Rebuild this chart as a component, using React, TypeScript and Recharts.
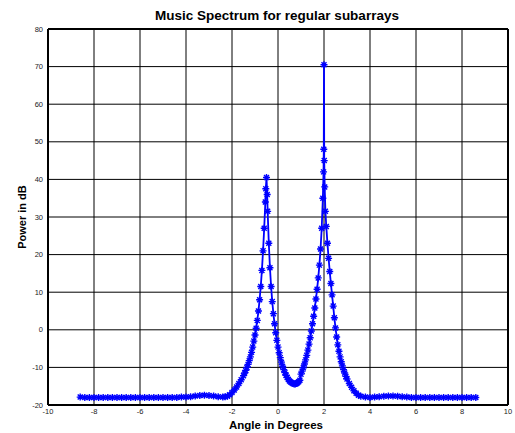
import React from 'react';
import { LineChart, Line, XAxis, YAxis, CartesianGrid, ReferenceLine } from 'recharts';

const angles = [
  -8.6, -8.4, -8.2, -8.0, -7.8, -7.6, -7.4, -7.2, -7.0, -6.8, -6.6, -6.4, -6.2, -6.0,
  -5.8, -5.6, -5.4, -5.2, -5.0, -4.8, -4.6, -4.4, -4.2, -4.0, -3.8, -3.6, -3.4, -3.2,
  -3.0, -2.8, -2.6, -2.4, -2.3, -2.2, -2.1, -2.0, -1.9, -1.8, -1.7, -1.6, -1.5, -1.45,
  -1.4, -1.35, -1.3, -1.25, -1.2, -1.15, -1.1, -1.05, -1.0, -0.95, -0.9, -0.85, -0.8,
  -0.75, -0.7, -0.65, -0.6, -0.55, -0.53, -0.5, -0.47, -0.45, -0.4, -0.35, -0.3, -0.25,
  -0.2, -0.15, -0.1, -0.05, 0.0, 0.05, 0.1, 0.15, 0.2, 0.25, 0.3, 0.35, 0.4, 0.45, 0.5,
  0.55, 0.6, 0.65, 0.7, 0.75, 0.8, 0.85, 0.9, 0.95, 1.0, 1.05, 1.1, 1.15, 1.2, 1.25, 1.3,
  1.35, 1.4, 1.45, 1.5, 1.55, 1.6, 1.65, 1.7, 1.75, 1.8, 1.85, 1.9, 1.95, 1.98, 1.99, 2.0,
  2.01, 2.03, 2.06, 2.1, 2.15, 2.2, 2.25, 2.3, 2.35, 2.4, 2.45, 2.5, 2.55, 2.6, 2.65, 2.7,
  2.75, 2.8, 2.85, 2.9, 2.95, 3.0, 3.1, 3.2, 3.3, 3.4, 3.5, 3.6, 3.8, 4.0, 4.2, 4.4, 4.6,
  4.8, 5.0, 5.2, 5.4, 5.6, 5.8, 6.0, 6.2, 6.4, 6.6, 6.8, 7.0, 7.2, 7.4, 7.6, 7.8, 8.0,
  8.2, 8.4, 8.6,
];

const powers = [
  -17.9, -18.0, -18.0, -18.0, -18.0, -18.0, -18.0, -18.0, -18.0, -18.0, -18.0, -18.0, -18.0, -18.0,
  -18.0, -18.0, -18.0, -18.0, -18.0, -18.0, -18.0, -18.0, -17.9, -17.9, -17.8, -17.6, -17.5, -17.4,
  -17.5, -17.6, -17.8, -17.9, -17.8, -17.7, -17.3, -16.7, -16.0, -15.2, -14.3, -13.3, -12.2, -11.5,
  -10.8, -10.0, -9.2, -8.2, -7.2, -6.0, -4.6, -3.0, -1.4, 0.4, 2.5, 5.0, 8.0,
  11.5, 15.8, 21.0, 27.0, 34.0, 37.5, 40.5, 36.0, 31.5, 23.0, 16.5, 11.5, 7.5,
  4.3, 1.6, -0.8, -2.8, -4.6, -6.1, -7.4, -8.6, -9.7, -10.6, -11.4, -12.1, -12.7, -13.2, -13.6,
  -13.9, -14.1, -14.3, -14.4, -14.4, -14.3, -14.1, -13.8, -13.4, -11.8, -11.0, -10.1, -9.1, -8.0, -6.8, -5.4,
  -3.8, -2.1, -0.3, 1.6, 3.6, 5.8, 8.2, 10.8, 13.8, 17.2, 21.5, 27.0, 35.0, 42.0, 48.0, 70.5,
  45.0, 38.0, 31.5, 27.5, 23.0, 19.0, 15.5, 12.3, 9.3, 6.3, 3.2, 0.5, -1.9, -4.0, -5.7, -7.2,
  -8.5, -9.6, -10.6, -11.5, -12.4, -13.1, -14.3, -15.3, -16.2, -16.9, -17.4, -17.7, -17.9, -18.0, -17.9, -17.8, -17.7,
  -17.6, -17.6, -17.7, -17.8, -17.9, -18.0, -18.0, -18.0, -18.0, -18.0, -18.0, -18.0, -18.0, -18.0, -18.0, -18.0, -18.0,
  -18.0, -18.0, -18.0,
];

const xTicks = [-10, -8, -6, -4, -2, 0, 2, 4, 6, 8, 10];
const yTicks = [-20, -10, 0, 10, 20, 30, 40, 50, 60, 70, 80];

const data = angles.map((a, i) => ({ angle: a, power: powers[i] }));

const FONT = '"Liberation Sans", Arial, Helvetica, sans-serif';

const Star = (props: any) => {
  const { cx, cy, index } = props;
  if (cx == null || cy == null) return <g key={`s${index}`} />;
  const r = 3.5;
  const d = 2.5;
  return (
    <path
      key={`s${index}`}
      d={`M${cx - r},${cy}H${cx + r}M${cx},${cy - r}V${cy + r}M${cx - d},${cy - d}L${cx + d},${cy + d}M${cx - d},${cy + d}L${cx + d},${cy - d}`}
      stroke="#0000ff"
      strokeWidth={1.4}
      fill="none"
    />
  );
};

export default function App() {
  return (
    <div style={{ position: 'absolute', left: 0, top: 0, width: 515, height: 433, background: '#fff', fontFamily: FONT }}>
      <LineChart
        width={515}
        height={433}
        data={data}
        margin={{ top: 29, right: 7, bottom: 0, left: 0 }}
        style={{ fontFamily: FONT }}
      >
        <CartesianGrid stroke="#000" strokeWidth={1} horizontalValues={yTicks} verticalValues={xTicks} />
        <XAxis
          dataKey="angle"
          type="number"
          domain={[-10, 10]}
          ticks={xTicks}
          interval={0}
          height={28}
          tickSize={3}
          tickMargin={1}
          tickLine={false}
          axisLine={{ stroke: '#000', strokeWidth: 2 }}
          tick={{ fontSize: 7.5, fill: '#222', fontFamily: FONT }}
        />
        <YAxis
          type="number"
          domain={[-20, 80]}
          ticks={yTicks}
          interval={0}
          width={48}
          tickSize={3}
          tickMargin={2}
          tickLine={false}
          axisLine={{ stroke: '#000', strokeWidth: 2 }}
          tick={{ fontSize: 7.5, fill: '#222', fontFamily: FONT }}
        />
        <ReferenceLine y={80} stroke="#000" strokeWidth={2} />
        <ReferenceLine x={10} stroke="#000" strokeWidth={2} />
        <Line
          type="linear"
          dataKey="power"
          stroke="#0000ff"
          strokeWidth={1.8}
          dot={Star}
          activeDot={false}
          isAnimationActive={false}
        />
      </LineChart>
      <svg width={515} height={433} style={{ position: 'absolute', left: 0, top: 0, pointerEvents: 'none' }}>
        <text x={277} y={20} textAnchor="middle" fontFamily={FONT} fontWeight="bold" fontSize={13.5} fill="#000">
          Music Spectrum for regular subarrays
        </text>
        <text x={276} y={429} textAnchor="middle" fontFamily={FONT} fontWeight="bold" fontSize={11.5} fill="#000">
          Angle in Degrees
        </text>
        <text
          x={0}
          y={0}
          transform="translate(26,217) rotate(-90)"
          textAnchor="middle"
          fontFamily={FONT}
          fontWeight="bold"
          fontSize={11}
          fill="#000"
        >
          Power in dB
        </text>
      </svg>
    </div>
  );
}
